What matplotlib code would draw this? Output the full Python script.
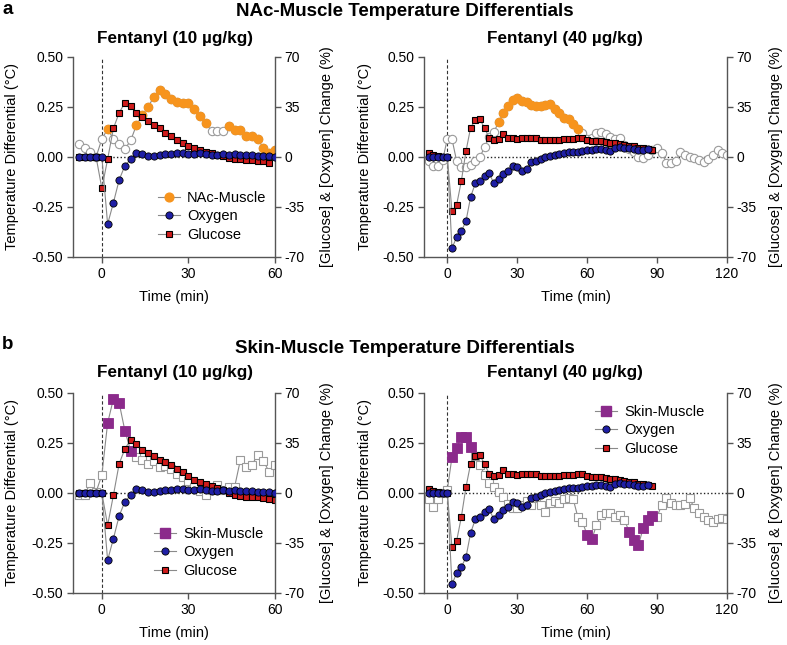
import numpy as np
import matplotlib
matplotlib.use('Agg')
import matplotlib.pyplot as plt
from matplotlib.lines import Line2D

plt.rcParams['font.family'] = ['Liberation Sans', 'DejaVu Sans']
plt.rcParams['font.size'] = 10

# sampling grids (min)
T_LEFT = np.arange(-8, 61, 2)
T_RIGHT = np.arange(-8, 121, 2)
T_CHEM_RIGHT = np.arange(-8, 89, 2)

# a) NAc-Muscle, 10 ug/kg
NAC10_TEMP = [0.067, 0.045, 0.023, 0.0, 0.09, 0.14, 0.09, 0.067, 0.04, 0.083,
              0.16, 0.21, 0.25, 0.30, 0.335, 0.315, 0.29, 0.275, 0.27, 0.27,
              0.24, 0.205, 0.17, 0.13, 0.13, 0.13, 0.157, 0.135, 0.133, 0.105,
              0.103, 0.09, 0.045, 0.02, 0.033]
NAC10_SIG = [0, 0, 0, 0, 0, 1, 0, 0, 0, 0,
             1, 1, 1, 1, 1, 1, 1, 1, 1, 1,
             1, 1, 1, 0, 0, 0, 1, 1, 1, 1,
             1, 1, 1, 1, 1]

# a) NAc-Muscle, 40 ug/kg
NAC40_TEMP = [-0.02, -0.045, -0.045, -0.015, 0.09, 0.09, -0.02, -0.05, -0.05, -0.04,
              -0.02, 0.0, 0.05, 0.10, 0.125, 0.175, 0.22, 0.255, 0.285, 0.295,
              0.28, 0.275, 0.262, 0.255, 0.255, 0.26, 0.265, 0.24, 0.22, 0.195,
              0.19, 0.165, 0.14, 0.12, 0.09, 0.095, 0.12, 0.127, 0.115, 0.10,
              0.09, 0.093, 0.06, 0.04, 0.027, 0.0, -0.007, 0.01, 0.035, 0.043,
              0.02, -0.03, -0.03, -0.02, 0.023, 0.01, 0.0, -0.007, -0.015, -0.023,
              -0.01, 0.01, 0.035, 0.02, 0.01]
NAC40_SIG = [0] * 15 + [1] * 18 + [0] * 32

# b) Skin-Muscle, 10 ug/kg
SKIN10_TEMP = [-0.01, -0.01, 0.05, 0.005, 0.09, 0.35, 0.47, 0.45, 0.31, 0.21,
               0.18, 0.165, 0.145, 0.16, 0.13, 0.135, 0.12, 0.095, 0.08, 0.06,
               0.03, 0.01, -0.01, 0.015, 0.04, 0.015, 0.03, 0.03, 0.165, 0.13,
               0.14, 0.19, 0.16, 0.105, 0.14]
SKIN10_SIG = [0] * 5 + [1] * 5 + [0] * 25

# b) Skin-Muscle, 40 ug/kg
SKIN40_TEMP = [-0.03, -0.068, -0.03, 0.0, 0.015, 0.18, 0.225, 0.28, 0.28, 0.23,
               0.185, 0.14, 0.09, 0.05, 0.03, 0.005, -0.02, -0.055, -0.077, -0.077,
               -0.06, -0.04, -0.06, -0.027, -0.06, -0.093, -0.048, -0.04, -0.05, -0.032,
               -0.027, -0.03, -0.12, -0.145, -0.21, -0.232, -0.16, -0.11, -0.10, -0.10,
               -0.118, -0.11, -0.135, -0.193, -0.235, -0.26, -0.177, -0.135, -0.115, -0.118,
               -0.06, -0.027, -0.05, -0.06, -0.06, -0.055, -0.027, -0.077, -0.098, -0.118,
               -0.135, -0.143, -0.132, -0.127, -0.13]
SKIN40_SIG = ([0] * 5 + [1] * 5 + [0] * 24 + [1] * 2 + [0] * 7 + [1] * 6 + [0] * 16)

# oxygen / glucose (% change), 10 ug/kg
O2_10 = [0, 0, 0, 0, 0, -47, -32, -16, -6, -1.5,
         2.8, 2.3, 0.5, 1, 1.5, 2, 2, 2.5, 2.5, 2,
         2, 2.5, 2, 1.5, 1.5, 2, 1.5, 2, 1.5, 1.5,
         1.5, 1, 1, 0.5, 0]
GLU10_A = [0, 0, 0, 0, -22, -1.5, 20, 31, 38, 35.5,
           31, 28, 25.5, 22.5, 20, 17, 14.5, 12, 10, 8,
           6.5, 5, 3.5, 2.8, 1.6, 0.5, -0.7, -1.4, -1.5, -2,
           -2.3, -2.5, -3, -4.2, np.nan]
GLU10_B = [0, 0, 0, 0, 0, -22.6, -1.6, 20.5, 31, 37.3,
           34.5, 30.3, 28, 25.7, 23.3, 21.7, 19.4, 17, 14.7, 12,
           9.3, 7.7, 6, 4.7, 3.5, 1.9, 0, -1.6, -2.3, -2.5,
           -2.8, -3, -3.3, -4, -5.1]

# oxygen / glucose (% change), 40 ug/kg
O2_40 = [0, 0, 0, 0, 0, -64, -56, -52, -45, -28,
         -18.5, -16.5, -13.5, -11.5, -18.5, -15.5, -12, -9.5, -6.5, -7,
         -9.5, -8.5, -3.3, -2.7, -1.2, 0, 0.5, 1.5, 2, 2.6,
         3.3, 3.7, 3.8, 4.2, 5, 5, 5.5, 5.5, 5, 4.5,
         6, 7, 6.5, 6, 5.5, 5, 5, 5.5, np.nan]
GLU40 = [3, 1.5, 1, 0, 0, -38, -33.5, -17, 4, 20.5,
         26, 26.5, 20, 13.5, 12, 12.5, 16, 13, 13, 12.5,
         13, 13.5, 13.5, 13, 12, 12, 12, 12, 12, 12.5,
         12.5, 12.5, 13, 13, 12, 11.5, 11.5, 11, 10.5, 10,
         9.5, 9, 8.5, 8, 7.5, 6.5, 6, 5.5, 5]

LINE = '#8a8a8a'
SPINE = '#555555'
ORANGE = '#f7941d'
PURPLE = '#8b2a8b'
BLUE = '#1f1fa5'
RED = '#d01c1c'

W, H = 787, 645
fig = plt.figure(figsize=(W / 100, H / 100), dpi=100)


def px_rect(x0, y0, x1, y1):
    return [x0 / W, 1 - y1 / H, (x1 - x0) / W, (y1 - y0) / H]


def draw_panel(rect, t, temp, sig, shape, color, t_chem, o2, glu, xmax, xticks,
               lab_left, lab_right):
    ax = fig.add_axes(rect)
    ax2 = ax.twinx()
    t = np.asarray(t)
    temp = np.asarray(temp)
    sig = np.asarray(sig, dtype=bool)

    ax.axvline(0, color='#333333', lw=0.8, ls=(0, (3, 2)), zorder=1)
    ax.plot([0, xmax], [0, 0], color='#222222', lw=1.0, ls=(0, (1, 1.6)), zorder=1)

    ms = 6.0 if shape == 'o' else 6.3
    ax.plot(t, temp, color=LINE, lw=0.8, marker=shape, ms=ms, mfc='white',
            mec='#9a9a9a', mew=0.8, zorder=2)
    ax.plot(t[sig], temp[sig], ls='none', marker=shape, ms=ms + 0.3,
            mfc=color, mec=color, mew=0.6, zorder=3)

    ax2.plot(t_chem, glu, color=LINE, lw=0.8, marker='s', ms=4.8, mfc=RED,
             mec='black', mew=0.8, zorder=2)
    ax2.plot(t_chem, o2, color=LINE, lw=0.8, marker='o', ms=5.2, mfc=BLUE,
             mec='black', mew=0.6, zorder=3)

    ax.set_xlim(-10, xmax)
    ax.set_ylim(-0.5, 0.5)
    ax2.set_ylim(-70, 70)
    ax.set_xticks(xticks)
    ax.set_yticks([-0.5, -0.25, 0, 0.25, 0.5])
    ax.set_yticklabels(['-0.50', '-0.25', '0.00', '0.25', '0.50'])
    ax2.set_yticks([-70, -35, 0, 35, 70])
    ax2.set_yticklabels(['-70', '-35', '0', '35', '70'])

    for a in (ax, ax2):
        a.spines['top'].set_visible(False)
        for s in a.spines.values():
            s.set_color(SPINE)
            s.set_linewidth(1.0)
        a.tick_params(direction='out', length=4, width=1, color=SPINE, pad=3,
                      labelsize=10)
    ax.spines['right'].set_visible(False)
    ax2.spines['left'].set_visible(False)
    ax2.spines['bottom'].set_visible(False)

    ax.set_xlabel('Time (min)', fontsize=10.5)
    ax.xaxis.set_label_coords(0.5, -0.165)
    ax.set_ylabel('Temperature Differential (°C)', fontsize=10.5)
    ax.yaxis.set_label_coords(lab_left, 0.5)
    ax2.set_ylabel('[Glucose] & [Oxygen] Change (%)', fontsize=10.5, rotation=90)
    ax2.yaxis.set_label_coords(lab_right, 0.5)
    return ax, ax2


def add_legend(ax, name, shape, color, anchor):
    handles = [
        Line2D([], [], color=LINE, lw=0.8, marker=shape, ms=6.5 if shape == 's' else 6.3,
               mfc=color, mec=color),
        Line2D([], [], color=LINE, lw=0.8, marker='o', ms=5.2, mfc=BLUE, mec='black', mew=0.6),
        Line2D([], [], color=LINE, lw=0.8, marker='s', ms=4.8, mfc=RED, mec='black', mew=0.8),
    ]
    ax.legend(handles, [name, 'Oxygen', 'Glucose'], loc='upper left',
              bbox_to_anchor=anchor, frameon=False, fontsize=10.5,
              borderpad=0, borderaxespad=0, handlelength=1.5,
              handletextpad=0.5, labelspacing=0.3)


ax_a1, ax_a1r = draw_panel(px_rect(73, 57, 275, 257), T_LEFT, NAC10_TEMP, NAC10_SIG, 'o',
                           ORANGE, T_LEFT, O2_10, GLU10_A, 60, [0, 30, 60], -0.265, 1.225)
ax_a2, ax_a2r = draw_panel(px_rect(424, 57, 727, 257), T_RIGHT, NAC40_TEMP, NAC40_SIG, 'o',
                           ORANGE, T_CHEM_RIGHT, O2_40, GLU40, 120, [0, 30, 60, 90, 120],
                           -0.17, 1.14)
ax_b1, ax_b1r = draw_panel(px_rect(73, 393, 275, 593), T_LEFT, SKIN10_TEMP, SKIN10_SIG, 's',
                           PURPLE, T_LEFT, O2_10, GLU10_B, 60, [0, 30, 60], -0.265, 1.225)
ax_b2, ax_b2r = draw_panel(px_rect(424, 393, 727, 593), T_RIGHT, SKIN40_TEMP, SKIN40_SIG, 's',
                           PURPLE, T_CHEM_RIGHT, O2_40, GLU40, 120, [0, 30, 60, 90, 120],
                           -0.17, 1.14)

add_legend(ax_a1r, 'NAc-Muscle', 'o', ORANGE, (0.42, 0.33))
add_legend(ax_b1r, 'Skin-Muscle', 's', PURPLE, (0.40, 0.33))
add_legend(ax_b2r, 'Skin-Muscle', 's', PURPLE, (0.565, 0.94))


def ftext(x, y, s, **kw):
    fig.text(x / W, 1 - y / H, s, ha='center', va='center', **kw)


ftext(8, 10, 'a', fontsize=13.5, fontweight='bold')
ftext(8, 345, 'b', fontsize=13.5, fontweight='bold')
ftext(405, 12, 'NAc-Muscle Temperature Differentials', fontsize=13.5, fontweight='bold')
ftext(405, 348, 'Skin-Muscle Temperature Differentials', fontsize=13.5, fontweight='bold')
for y in (38, 373):
    ftext(175, y, 'Fentanyl (10 µg/kg)', fontsize=12.3, fontweight='bold')
    ftext(565, y, 'Fentanyl (40 µg/kg)', fontsize=12.3, fontweight='bold')

fig.savefig('out.png', dpi=100)
